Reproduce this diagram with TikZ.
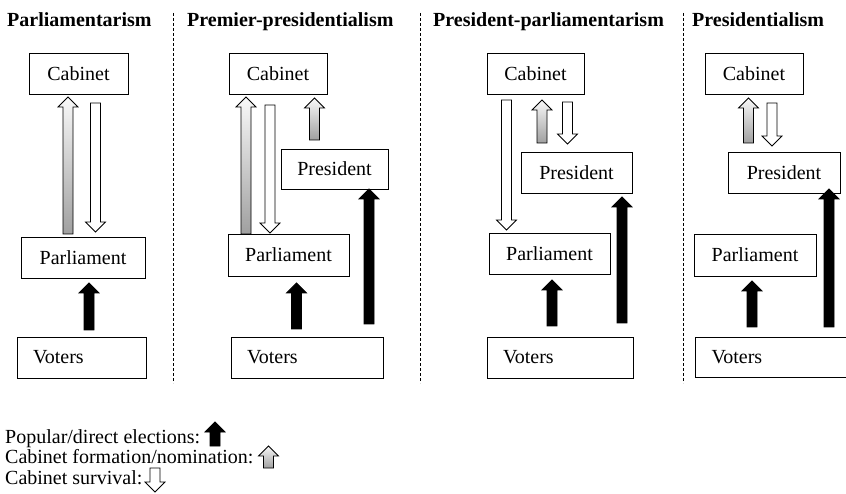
\documentclass[tikz,border=0pt]{standalone}
\usepackage{fontspec}
\setmainfont{Liberation Serif}
\newcommand\blkup[4]{%
  \path[#1] ({#2-5},{#4}) -- ({#2-5},{#3+10}) -- ({#2-10},{#3+10}) -- ({#2},{#3})
    -- ({#2+10},{#3+10}) -- ({#2+5},{#3+10}) -- ({#2+5},{#4}) -- cycle;}
\newcommand\blkdown[4]{%
  \path[#1] ({#2-5},{#3}) -- ({#2-5},{#4-10}) -- ({#2-10},{#4-10}) -- ({#2},{#4})
    -- ({#2+10},{#4-10}) -- ({#2+5},{#4-10}) -- ({#2+5},{#3}) -- cycle;}
\tikzset{
  box/.style={draw=black, line width=0.9, rectangle, inner sep=0, minimum height=41},
  leftbox/.style={box, inner xsep=16, align=left},
  title/.style={font=\fontsize{20}{24}\selectfont\bfseries, anchor=base west, inner sep=0},
  legtext/.style={anchor=base west, inner sep=0},
  blackarr/.style={fill=black, draw=black, line width=0.8},
  grayarr/.style={draw=black, line width=0.8, top color=gray!5, bottom color=gray!75},
  whitearr/.style={draw=black, line width=0.8, fill=white},
  sep/.style={line width=0.9, dash pattern=on 3pt off 2pt}
}
\begin{document}
\begin{tikzpicture}[x=1pt, y=-1pt, font=\fontsize{20}{24}\selectfont]
\useasboundingbox[fill=white] (0,0) rectangle (846,494);

% separators
\coordinate (s1t) at (173,13); \coordinate (s1b) at (173,383);
\coordinate (s2t) at (420,13); \coordinate (s2b) at (420,383);
\coordinate (s3t) at (683,13); \coordinate (s3b) at (683,383);
\draw[sep] (s1t) -- (s1b);
\draw[sep] (s2t) -- (s2b);
\draw[sep] (s3t) -- (s3b);

% titles
\node[title] (t1) at (7,27) {Parliamentarism};
\node[title] (t2) at (187,27) {Premier-presidentialism};
\node[title] (t3) at (433,27) {President-parliamentarism};
\node[title] (t4) at (692,27) {Presidentialism};

% column 1
\node[box, minimum width=99] (cab1) at (78.5,73.5) {Cabinet};
\node[box, minimum width=124] (par1) at (83,257.5) {Parliament};
\node[leftbox, text width=97] (vot1) at (81.5,357.5) {Voters};
\blkup{grayarr}{68}{97}{234}
\blkdown{whitearr}{95.5}{103}{232}
\blkup{blackarr}{89}{283}{330}

% column 2
\node[box, minimum width=98] (cab2) at (278,73.5) {Cabinet};
\node[box, minimum width=107, minimum height=40] (pre2) at (334.5,169) {President};
\node[box, minimum width=121, minimum height=42] (par2) at (288.5,255) {Parliament};
\node[leftbox, text width=120] (vot2) at (307,357.5) {Voters};
\blkup{grayarr}{246}{97}{234}
\blkdown{whitearr}{270}{105}{233}
\blkup{grayarr}{314.5}{98}{140}
\blkup{blackarr}{296.5}{283}{329}
\blkup{blackarr}{369}{189}{324}

% column 3
\node[box, minimum width=97] (cab3) at (535.5,73.5) {Cabinet};
\node[box, minimum width=111] (pre3) at (576.5,172.5) {President};
\node[box, minimum width=121] (par3) at (549.5,253.5) {Parliament};
\node[leftbox, text width=114] (vot3) at (560,357.5) {Voters};
\blkdown{whitearr}{506.5}{100}{230}
\blkup{grayarr}{542}{100}{143}
\blkdown{whitearr}{567.5}{102}{144}
\blkup{blackarr}{552}{280}{326}
\blkup{blackarr}{622}{197}{323}

% column 4
\node[box, minimum width=98] (cab4) at (754,73.5) {Cabinet};
\node[box, minimum width=112] (pre4) at (784,172.5) {President};
\node[box, minimum width=122, minimum height=42] (par4) at (755,255) {Parliament};
\node[leftbox, minimum height=40, text width=123] (vot4) at (773,357) {Voters};
\blkup{grayarr}{748.5}{98}{143}
\blkdown{whitearr}{772}{103}{146}
\blkup{blackarr}{752}{281}{327}
\blkup{blackarr}{829}{189}{327}

% legend
\node[legtext] (leg1) at (5,443) {Popular/direct elections:};
\node[legtext] (leg2) at (5,463) {Cabinet formation/nomination:};
\node[legtext] (leg3) at (5,484) {Cabinet survival:};
\blkup{blackarr}{215}{422}{446}
\blkup{grayarr}{268.5}{446}{468}
\blkdown{whitearr}{155}{468}{492}
\end{tikzpicture}
\end{document}
